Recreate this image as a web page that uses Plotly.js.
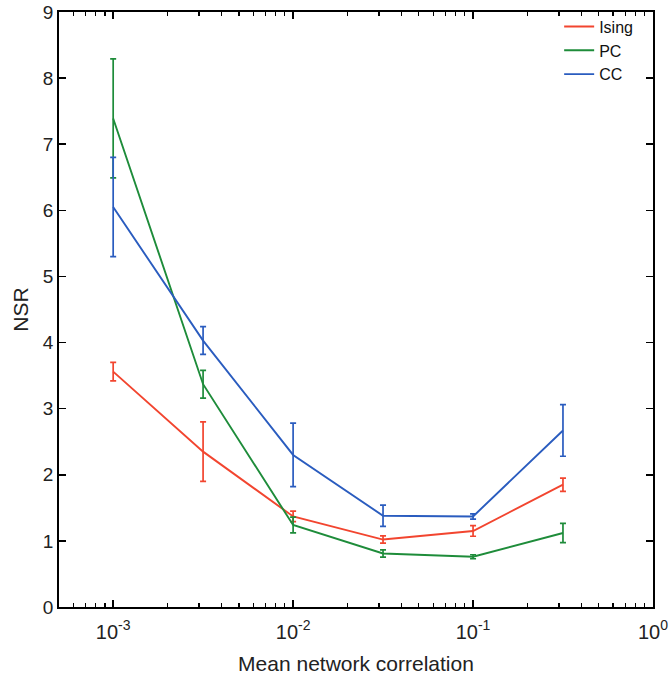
<!DOCTYPE html>
<html>
<head>
<meta charset="utf-8">
<script src="https://cdn.plot.ly/plotly-3.0.1.min.js"></script>
<style>html,body{margin:0;padding:0;background:#fff;}#chart{width:670px;height:675px;}</style>
</head>
<body>
<div id="chart"></div>
<script>
// Mean network correlation (x)
const correlation = [0.001, 0.00316, 0.01, 0.0316, 0.1, 0.316];
// NSR values and error bar half-widths
const isingNSR = [3.56, 2.35, 1.37, 1.02, 1.15, 1.85];
const isingErr = [0.14, 0.45, 0.08, 0.055, 0.08, 0.10];
const pcNSR = [7.39, 3.37, 1.24, 0.81, 0.76, 1.12];
const pcErr = [0.90, 0.21, 0.12, 0.055, 0.03, 0.145];
const ccNSR = [6.05, 4.03, 2.30, 1.38, 1.37, 2.67];
const ccErr = [0.75, 0.21, 0.48, 0.16, 0.04, 0.39];
const seriesNames = ["Ising", "PC", "CC"];
const xTickVals = [0.001, 0.01, 0.1, 1];
const xTickText = ["10<sup>-3</sup>", "10<sup>-2</sup>", "10<sup>-1</sup>", "10<sup>0</sup>"];
const yTickVals = [0, 1, 2, 3, 4, 5, 6, 7, 8, 9];
const decades = [0.0001, 0.001, 0.01, 0.1];
const minorMultipliers = [2, 3, 4, 5, 6, 7, 8, 9];

const minorTicks = [];
decades.forEach(d => minorMultipliers.forEach(m => minorTicks.push(d * m)));

const colors = ["#f2452f", "#1e8c3a", "#2a5cbf"];
const ys = [isingNSR, pcNSR, ccNSR];
const es = [isingErr, pcErr, ccErr];

const traces = seriesNames.map((n, i) => ({
  x: correlation, y: ys[i], name: n, type: "scatter", mode: "lines",
  line: {color: colors[i], width: 1.9},
  error_y: {type: "data", array: es[i], visible: true, color: colors[i], thickness: 1.7, width: 3}
}));

const fam = "Liberation Sans, Arial, Helvetica, sans-serif";
const layout = {
  width: 670, height: 675,
  margin: {l: 59, r: 17, t: 12, b: 68, autoexpand: false},
  paper_bgcolor: "#fff", plot_bgcolor: "#fff",
  font: {family: fam, size: 18, color: "#000"},
  showlegend: true,
  legend: {x: 0.975, y: 1.004, xanchor: "right", yanchor: "top", bgcolor: "rgba(0,0,0,0)",
    font: {family: fam, size: 16, color: "#111"}, tracegroupgap: 0, itemwidth: 30},
  xaxis: {
    type: "log", range: [Math.log10(0.0005), 0],
    tickvals: xTickVals, ticktext: xTickText,
    ticks: "inside", ticklen: 7, tickwidth: 1.5, tickcolor: "#000",
    minor: {tickmode: "array", tickvals: minorTicks, ticks: "inside", ticklen: 4, tickwidth: 1.2, tickcolor: "#000", showgrid: false},
    showline: true, linecolor: "#000", linewidth: 1.8, mirror: "ticks",
    showgrid: false, zeroline: false, automargin: false,
    ticklabelstandoff: 6,
    tickfont: {family: fam, size: 20, color: "#222"},
    title: {text: "Mean network correlation", font: {family: fam, size: 21, color: "#222"}, standoff: 14}
  },
  yaxis: {
    range: [0, 9], tickvals: yTickVals,
    ticks: "inside", ticklen: 7, tickwidth: 1.5, tickcolor: "#000",
    showline: true, linecolor: "#000", linewidth: 1.8, mirror: "ticks",
    showgrid: false, zeroline: false, automargin: false,
    tickfont: {family: fam, size: 19, color: "#222"},
    title: {text: "NSR", font: {family: fam, size: 21, color: "#222"}, standoff: 8}
  }
};
Plotly.newPlot("chart", traces, layout, {displayModeBar: false, staticPlot: true});
</script>
</body>
</html>
